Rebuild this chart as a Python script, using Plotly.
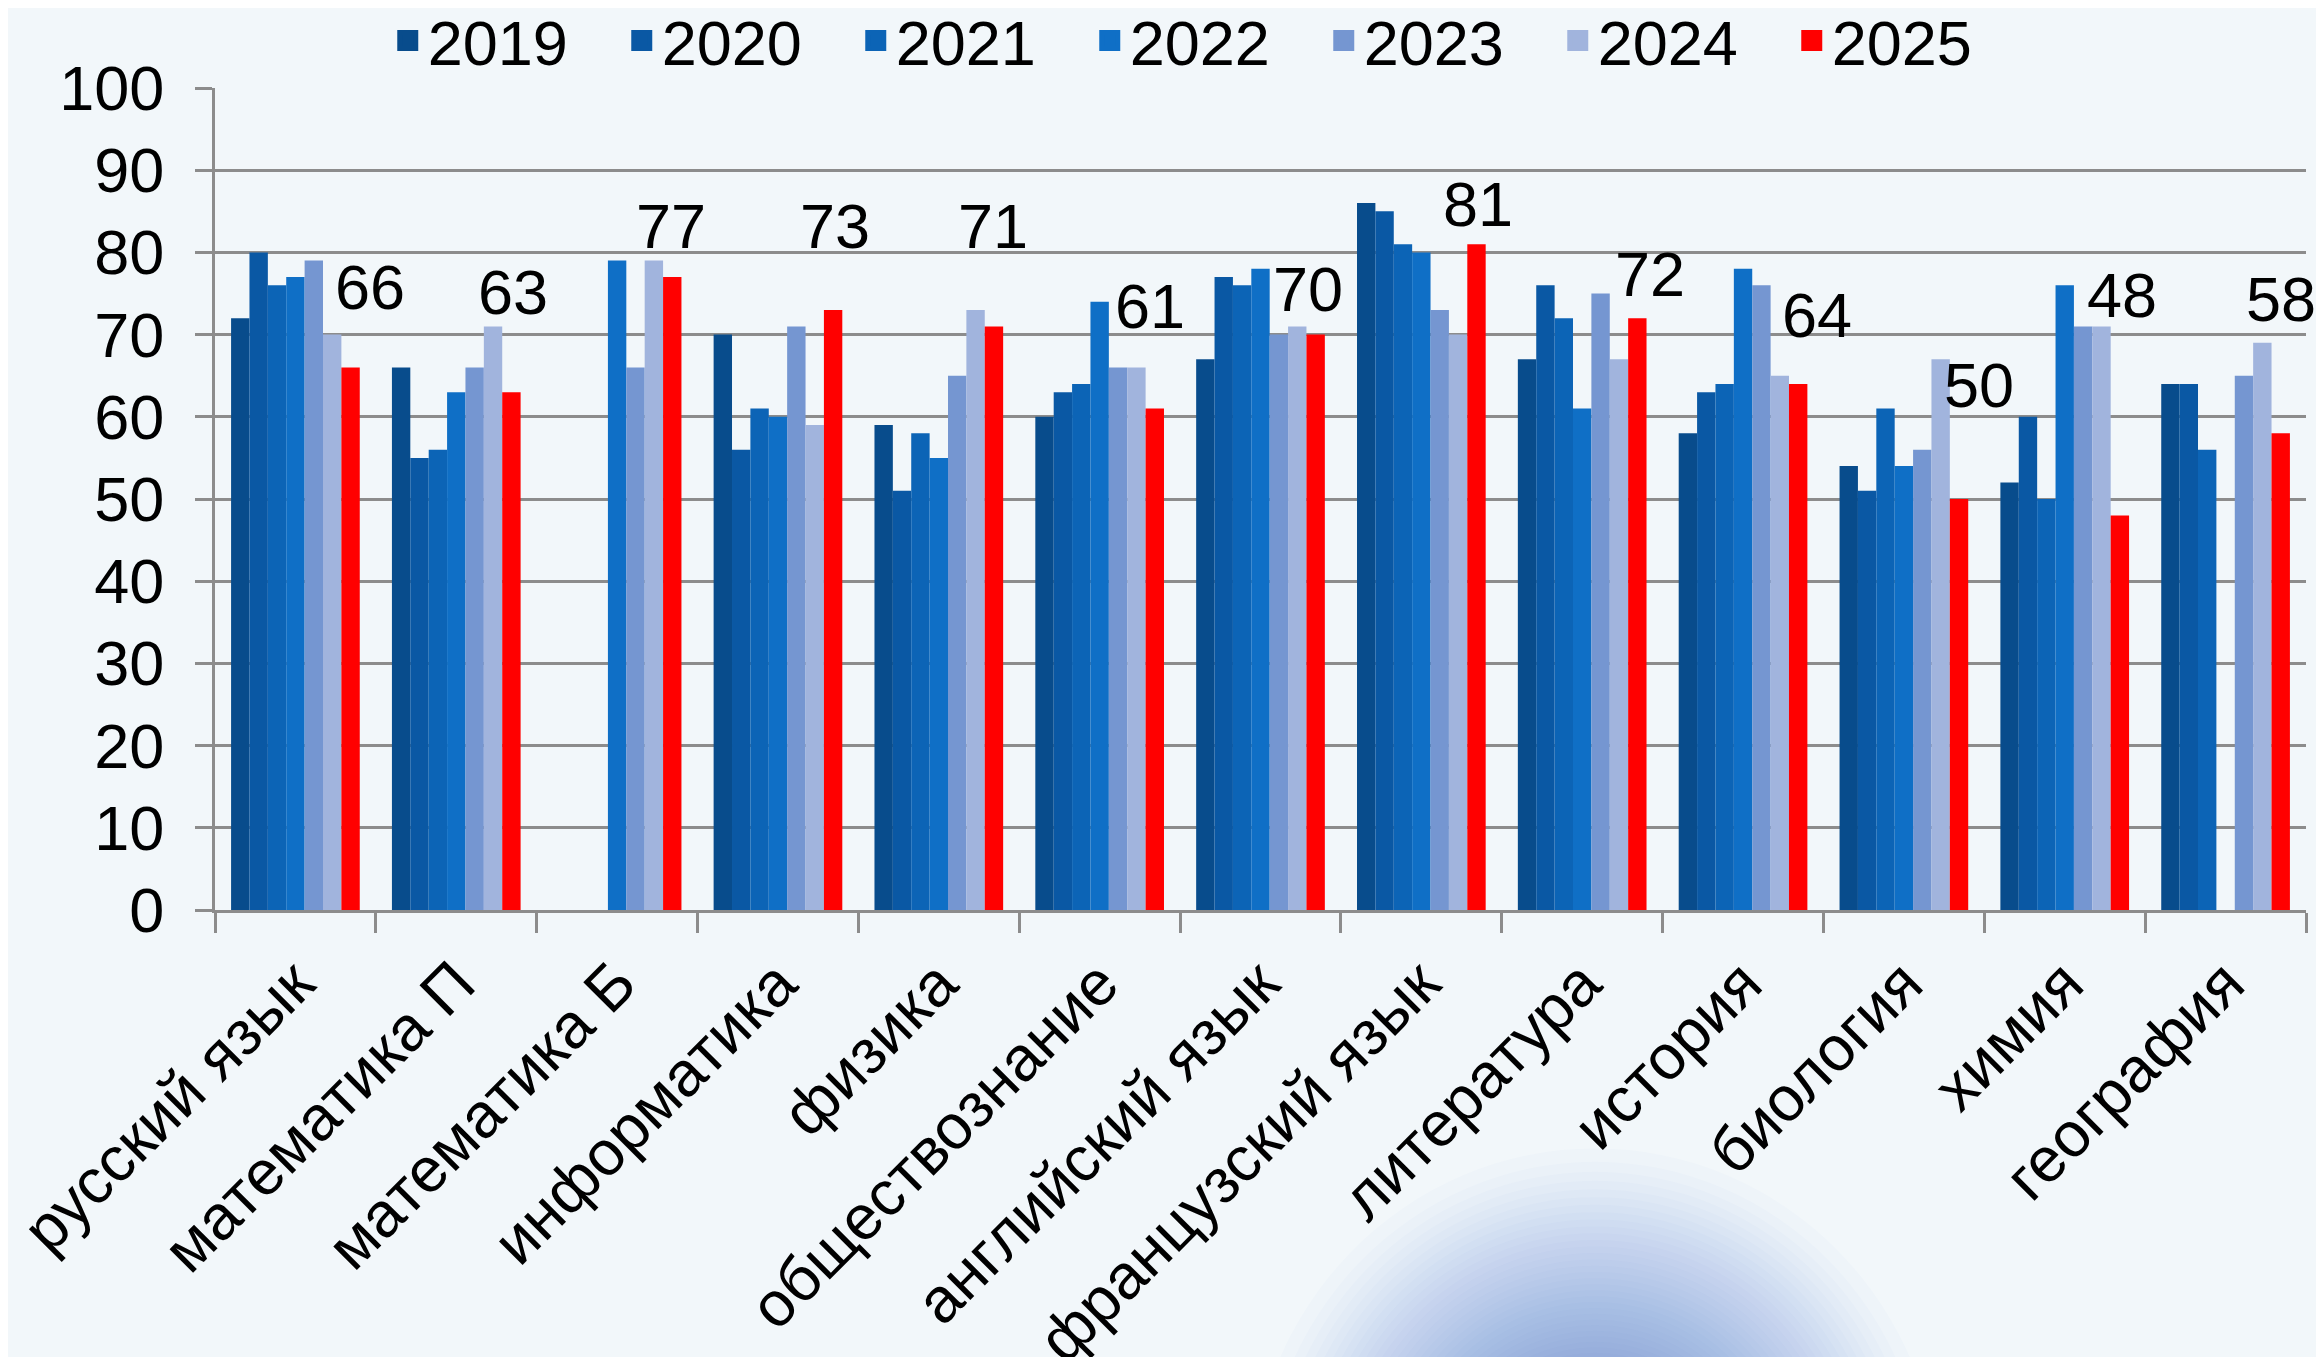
import plotly.graph_objects as go

categories = ["русский язык", "математика П", "математика Б", "информатика", "физика",
              "обществознание", "английский язык", "французский язык", "литература",
              "история", "биология", "химия", "география"]
years = ["2019", "2020", "2021", "2022", "2023", "2024", "2025"]

v2019 = [72, 66, None, 70, 59, 60, 67, 86, 67, 58, 54, 52, 64]
v2020 = [80, 55, None, 56, 51, 63, 77, 85, 76, 63, 51, 60, 64]
v2021 = [76, 56, None, 61, 58, 64, 76, 81, 72, 64, 61, 50, 56]
v2022 = [77, 63, 79, 60, 55, 74, 78, 80, 61, 78, 54, 76, None]
v2023 = [79, 66, 66, 71, 65, 66, 70, 73, 75, 76, 56, 71, 65]
v2024 = [70, 71, 79, 59, 73, 66, 71, 70, 67, 65, 67, 71, 69]
v2025 = [66, 63, 77, 73, 71, 61, 70, 81, 72, 64, 50, 48, 58]
series = [v2019, v2020, v2021, v2022, v2023, v2024, v2025]

y_ticks = [0, 10, 20, 30, 40, 50, 60, 70, 80, 90, 100]

# styles
colors = ["#084C8C", "#0A58A4", "#0C64B6", "#0F6FC6", "#7596D1", "#A1B4DD", "#FF0000"]
# label placement (style): lift above bar top in value units, horizontal nudge in px
label_lift = [6.9, 9.3, 3.3, 7.3, 9.3, 9.6, 2.6, 2.0, 2.4, 5.5, 11.0, 23.9, 13.4]
label_dx = [19, 2, -1, 2, -1, -5, -8, 2, 13, 19, 20, 2, 0]

FONT = "Liberation Sans, Arial, sans-serif"
FS = 63
GRID = "#8C8C8C"
BG = "#F2F7FA"
BARGAP = 0.2

W, H = 2316, 1349          # page body has an 8px margin
ML, MR, MB = 207, 18, 447
PLOT_TOP = 80              # px from top of figure to y=100
paper_h = H - MB
dom_top = (paper_h - PLOT_TOP) / paper_h

fig = go.Figure()
for name, vals, col in zip(years, series, colors):
    fig.add_trace(go.Bar(x=categories, y=vals, name=name,
                         marker=dict(color=col, line=dict(width=0)), showlegend=False))
# legend proxies with square symbols
for name, col in zip(years, colors):
    fig.add_trace(go.Scatter(x=[None], y=[None], mode="markers", name=name,
                             marker=dict(symbol="square", size=30, color=col,
                                         line=dict(color=col, width=5))))

n = len(years)
bar_w = (1 - BARGAP) / n
off_last = -(1 - BARGAP) / 2 + bar_w * (n - 0.5)
annotations = []
for i, (v, lift, dx) in enumerate(zip(v2025, label_lift, label_dx)):
    annotations.append(dict(x=i + off_last, y=v + lift, xref="x", yref="y", text=str(v),
                            showarrow=False, yanchor="bottom", xanchor="center",
                            xshift=dx, yshift=-13,
                            font=dict(family=FONT, size=FS, color="#000000")))

# soft blue blob at bottom (decoration)
shapes = []
cx, cy, rx, ry = 0.66, -0.72, 0.165, 0.43
steps = 45
for k in range(steps):
    r = 1.0 - (k / steps) ** 0.8 * 0.8
    shapes.append(dict(type="circle", xref="x domain", yref="y domain", layer="below",
                       x0=cx - rx * r, x1=cx + rx * r, y0=cy - ry * r, y1=cy + ry * r,
                       fillcolor="#4A84DA", opacity=0.022, line=dict(width=0)))

fig.update_layout(
    width=W, height=H,
    margin=dict(l=ML, r=MR, t=0, b=MB, pad=0, autoexpand=False),
    paper_bgcolor=BG, plot_bgcolor="rgba(0,0,0,0)",
    barmode="group", bargap=BARGAP, bargroupgap=0,
    font=dict(family=FONT, size=FS, color="#000000"),
    legend=dict(orientation="h", x=0.4743, xref="paper", xanchor="center",
                y=1.0166, yref="paper", yanchor="top",
                font=dict(family=FONT, size=FS, color="#000000"),
                entrywidth=189, entrywidthmode="pixels",
                itemsizing="trace", bgcolor="rgba(0,0,0,0)"),
    annotations=annotations,
    shapes=shapes,
)
fig.update_yaxes(domain=[0, dom_top], range=[0, 100], tickvals=y_ticks,
                 showgrid=True, gridcolor=GRID, gridwidth=2.5,
                 showline=True, linecolor=GRID, linewidth=3, ticks="outside", ticklen=17,
                 tickcolor=GRID, tickwidth=2.5, tickfont=dict(family=FONT, size=FS),
                 zeroline=False, ticklabelstandoff=18, automargin=False)
fig.update_xaxes(showline=True, linecolor=GRID, linewidth=3, ticks="outside", ticklen=20,
                 tickcolor=GRID, tickwidth=2.5, tickson="boundaries", tickangle=-45,
                 tickfont=dict(family=FONT, size=FS), showgrid=False, ticklabelstandoff=8,
                 range=[-0.5, len(categories) - 0.5], automargin=False)

fig.write_html("out.html")
